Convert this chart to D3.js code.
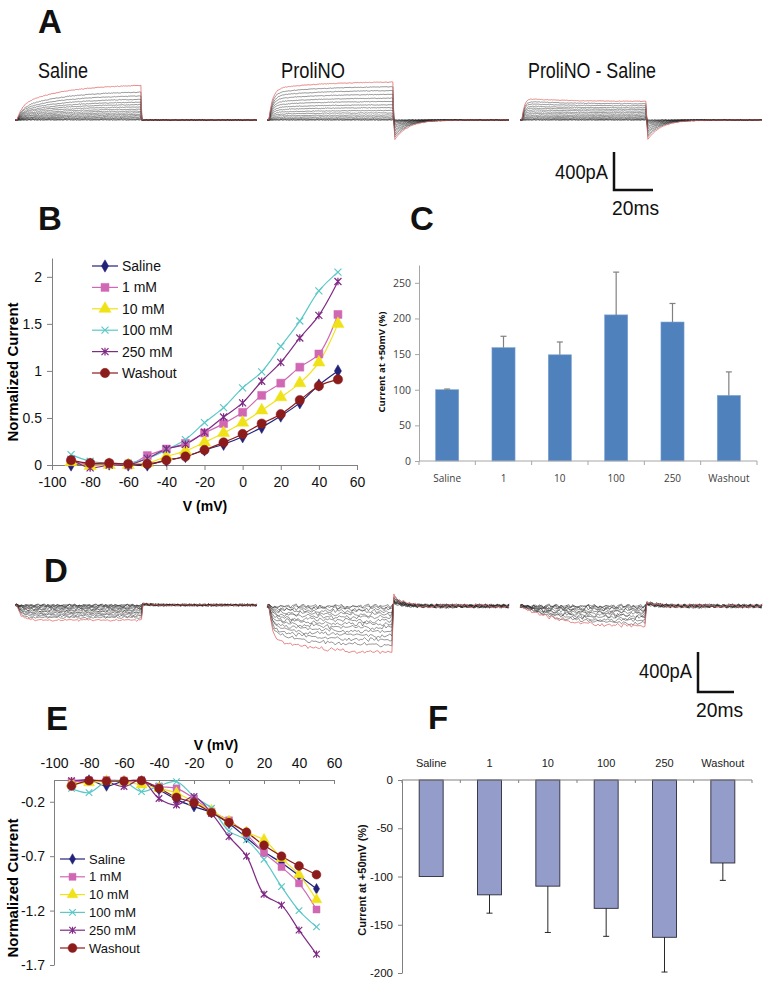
<!DOCTYPE html>
<html><head><meta charset="utf-8">
<script src="https://cdn.jsdelivr.net/npm/d3@7"></script>
<style>body{margin:0;background:#fff}svg{display:block}</style>
</head><body><svg id="c" width="768" height="986"></svg>
<script>
// ===================== DATA =====================
const voltages = [-90,-80,-70,-60,-50,-40,-30,-20,-10,0,10,20,30,40,50];
const seriesNames = ["Saline","1 mM","10 mM","100 mM","250 mM","Washout"];
const xTicksIV = [-100,-80,-60,-40,-20,0,20,40,60];

// Panel B: normalized outward current
const ivB_saline  = [0.00,0.01,0.01,0.00,0.00,0.05,0.09,0.16,0.22,0.30,0.40,0.52,0.66,0.85,1.00];
const ivB_1mM     = [0.04,0.01,0.01,0.00,0.10,0.17,0.23,0.34,0.44,0.56,0.74,0.87,1.04,1.18,1.60];
const ivB_10mM    = [0.03,-0.01,0.00,0.00,0.02,0.09,0.15,0.24,0.34,0.45,0.58,0.72,0.87,1.09,1.50];
const ivB_100mM   = [0.11,0.04,0.02,0.02,0.07,0.16,0.27,0.45,0.61,0.82,0.99,1.26,1.53,1.85,2.05];
const ivB_250mM   = [0.06,-0.03,0.00,0.00,0.07,0.17,0.22,0.35,0.51,0.66,0.89,1.09,1.35,1.59,1.95];
const ivB_washout = [0.05,0.02,0.02,0.01,0.01,0.05,0.09,0.16,0.24,0.33,0.44,0.54,0.69,0.84,0.91];
const yTicksB = [0,0.5,1,1.5,2];

// Panel E: normalized inward current
const ivE_saline  = [-0.03,0.00,-0.055,-0.01,-0.01,-0.09,-0.18,-0.245,-0.30,-0.40,-0.53,-0.66,-0.76,-0.88,-1.00];
const ivE_1mM     = [-0.015,-0.005,0.00,-0.005,-0.015,-0.06,-0.077,-0.17,-0.29,-0.37,-0.50,-0.67,-0.80,-0.95,-1.19];
const ivE_10mM    = [-0.03,-0.025,-0.01,-0.015,-0.045,-0.077,-0.12,-0.20,-0.28,-0.38,-0.48,-0.55,-0.72,-0.87,-1.10];
const ivE_100mM   = [-0.077,-0.116,-0.015,-0.015,-0.107,-0.055,-0.015,-0.153,-0.26,-0.47,-0.55,-0.73,-0.98,-1.20,-1.35];
const ivE_250mM   = [-0.006,0.00,-0.015,-0.06,0.00,-0.17,-0.23,-0.153,-0.306,-0.52,-0.70,-1.05,-1.15,-1.38,-1.60];
const ivE_washout = [-0.055,-0.006,-0.01,-0.01,-0.006,-0.077,-0.16,-0.21,-0.30,-0.39,-0.48,-0.60,-0.70,-0.79,-0.87];
const yTicksE = [-0.2,-0.7,-1.2,-1.7];

// Panels C and F: current at +50 mV (% of saline)
const barCats = ["Saline","1","10","100","250","Washout"];
const barC_mean = [100,159,149,205,195,92];
const barC_err  = [1,16,18,60,26,33];
const yTicksC = [0,50,100,150,200,250];
const barF_mean = [-100,-119,-110,-133,-163,-86];
const barF_err  = [0,19,48,29,36,18];
const yTicksF = [0,-50,-100,-150,-200];

// Panels A and D: sweep amplitudes at end of the step (pA); last entry = red sweep
const ampA_saline  = [0,5,12,21,32,44,58,74,92,112,135,160,185,215,250,290,360];
const ampA_prolino = [0,2,9,20,34,52,75,100,130,160,195,230,270,310,350,400];
const ampA_diff    = [0,2,8,17,28,40,55,72,90,110,130,150,175,200,230];
const ampD_saline  = [0,2,7,13,20,28,37,47,58,70,82,95,110,125,150];
const ampD_prolino = [0,10,30,55,85,115,150,185,220,260,300,345,395,470];
const ampD_diff    = [0,5,15,30,45,62,80,100,120,145,170,200];
const wiggle = [0.3,-0.8,0.5,1,-0.2,-1,0.6,-0.4,0.9,-0.7,0.1,0.8,-0.9,0.4,-0.3,0.7,-0.6,0.2,-1,0.5,0.9,-0.5,-0.1,0.6,-0.8,0.3,1,-0.4,-0.7,0.2,0.8,-0.9,0.1,-0.3,0.6,-0.6,0.4];

// ===================== STYLE =====================
const colors = ["#22227a","#d068b4","#f0e218","#5cc8c8","#7f2a84","#8c1c1c"];
const FONT = "'Liberation Sans', Arial, sans-serif";
const svg = d3.select("#c");
svg.append("rect").attr("width",768).attr("height",986).attr("fill","#fff");

function letter(t,x,y){ svg.append("text").attr("x",x).attr("y",y).text(t)
  .attr("font-family",FONT).attr("font-weight","bold").attr("font-size",33).attr("fill","#111"); }
letter("A",38,33); letter("B",38,230); letter("C",410,230);
letter("D",44,582); letter("E",46,730); letter("F",428,729);

function markerPath(i, s){
  switch(i){
    case 0: return d3.symbol(d3.symbolDiamond, s*s*0.9)();
    case 1: return d3.symbol(d3.symbolSquare, s*s)();
    case 2: return d3.symbol(d3.symbolTriangle, s*s*0.9)();
    case 3: { const h=s*0.5; return `M${-h},${-h}L${h},${h}M${-h},${h}L${h},${-h}`; }
    case 4: { const h=s*0.5; return `M${-h},${-h}L${h},${h}M${-h},${h}L${h},${-h}M0,${-h*1.1}L0,${h*1.1}`; }
    case 5: return d3.symbol(d3.symbolCircle, s*s*0.85)();
  }
}
function drawMarker(g, i, x, y, s){
  const stroke = (i===3||i===4);
  g.append("path").attr("d",markerPath(i,s)).attr("transform",`translate(${x},${y})`)
    .attr("fill", stroke ? "none" : colors[i]).attr("stroke", colors[i])
    .attr("stroke-width", stroke?1.2:0.5);
}
const sizesB = [7,8,8.5,7,7,9];
const sizesE = [6,7,7.5,6.5,6.5,8.5];

// ===================== PANEL B =====================
{
  const g = svg.append("g");
  const x = d3.scaleLinear().domain([-100,60]).range([52,357]);
  const y = d3.scaleLinear().domain([0,2.2]).range([465,258]);
  const ax = g.append("g").attr("transform","translate(0,465)")
    .call(d3.axisBottom(x).tickValues(xTicksIV).tickFormat(String).tickSize(5).tickSizeOuter(0).tickPadding(7));
  const ay = g.append("g").attr("transform","translate(52,0)")
    .call(d3.axisLeft(y).tickValues(yTicksB).tickFormat(String).tickSize(5).tickSizeOuter(0).tickPadding(5));
  [ax,ay].forEach(a=>{ a.selectAll("path,line").attr("stroke","#808080");
    a.selectAll("text").attr("font-family",FONT).attr("font-size",14).attr("fill","#111"); });
  g.append("text").attr("x",205).attr("y",511).attr("text-anchor","middle").text("V (mV)")
    .attr("font-family",FONT).attr("font-weight","bold").attr("font-size",14);
  g.append("text").attr("transform","translate(18,372) rotate(-90)").attr("text-anchor","middle")
    .text("Normalized Current").attr("font-family",FONT).attr("font-weight","bold").attr("font-size",15);
  const data = [ivB_saline,ivB_1mM,ivB_10mM,ivB_100mM,ivB_250mM,ivB_washout];
  const line = d3.line().x((d,i)=>x(voltages[i])).y(d=>y(d)).curve(d3.curveCatmullRom.alpha(0.5));
  data.forEach((s,k)=>{
    g.append("path").attr("d",line(s)).attr("fill","none").attr("stroke",colors[k]).attr("stroke-width",1.2);
  });
  data.forEach((s,k)=>{ s.forEach((v,i)=>drawMarker(g,k,x(voltages[i]),y(v),sizesB[k])); });
  seriesNames.forEach((n,k)=>{
    const yy = 266 + k*21.4;
    g.append("line").attr("x1",92).attr("x2",118).attr("y1",yy).attr("y2",yy).attr("stroke",colors[k]).attr("stroke-width",1.2);
    drawMarker(g,k,105,yy,sizesB[k]);
    g.append("text").attr("x",122).attr("y",yy+5).text(n).attr("font-family",FONT).attr("font-size",14).attr("fill","#111");
  });
}

// ===================== PANEL C =====================
{
  const g = svg.append("g");
  const CF = "'Open Sans', sans-serif";
  const x = d3.scaleBand().domain(barCats).range([419,757]).paddingInner(0.59).paddingOuter(0.295);
  const y = d3.scaleLinear().domain([0,275]).range([461,265]);
  g.selectAll("rect.bar").data(barC_mean).enter().append("rect")
    .attr("x",(d,i)=>x(barCats[i])).attr("width",x.bandwidth())
    .attr("y",d=>y(d)).attr("height",d=>y(0)-y(d)).attr("fill","#4f81bd")
    .attr("stroke","#7ea3d3").attr("stroke-width",0.6);
  barC_mean.forEach((m,i)=>{
    const cx = x(barCats[i]) + x.bandwidth()/2;
    g.append("line").attr("x1",cx).attr("x2",cx).attr("y1",y(m)).attr("y2",y(m+barC_err[i])).attr("stroke","#808080").attr("stroke-width",1.2);
    g.append("line").attr("x1",cx-3).attr("x2",cx+3).attr("y1",y(m+barC_err[i])).attr("y2",y(m+barC_err[i])).attr("stroke","#808080").attr("stroke-width",1.2);
  });
  const ay = g.append("g").attr("transform","translate(419,0)")
    .call(d3.axisLeft(y).tickValues(yTicksC).tickSize(4).tickSizeOuter(0).tickPadding(4));
  ay.selectAll("path,line").attr("stroke","#a6a6a6");
  ay.selectAll("text").attr("font-family",CF).attr("font-size",10.5).attr("fill","#404040");
  g.append("line").attr("x1",419).attr("x2",757).attr("y1",461).attr("y2",461).attr("stroke","#a6a6a6");
  d3.range(barCats.length+1).forEach(i=>{
    const bx = 419 + i*x.step();
    g.append("line").attr("x1",bx).attr("x2",bx).attr("y1",461).attr("y2",465).attr("stroke","#a6a6a6");
  });
  barCats.forEach(c=>{
    g.append("text").attr("x",x(c)+x.bandwidth()/2).attr("y",482).attr("text-anchor","middle").text(c)
      .attr("font-family",CF).attr("font-size",10).attr("fill","#404040");
  });
  g.append("text").attr("transform","translate(385,362) rotate(-90)").attr("text-anchor","middle")
    .text("Current at +50mV (%)").attr("font-family",CF).attr("font-weight","bold").attr("font-size",9.5).attr("fill","#111");
}

// ===================== PANEL E =====================
{
  const g = svg.append("g");
  const x = d3.scaleLinear().domain([-100,60]).range([54,334]);
  const y = d3.scaleLinear().domain([-1.7,0]).range([965,780]);
  const ax = g.append("g").attr("transform","translate(0,780)")
    .call(d3.axisTop(x).tickValues(xTicksIV).tickFormat(String).tickSize(-4).tickSizeOuter(0).tickPadding(12));
  const ay = g.append("g").attr("transform","translate(54,0)")
    .call(d3.axisLeft(y).tickValues(yTicksE).tickFormat(String).tickSize(4).tickSizeOuter(0).tickPadding(5));
  [ax,ay].forEach(a=>{ a.selectAll("path,line").attr("stroke","#808080");
    a.selectAll("text").attr("font-family",FONT).attr("font-size",14).attr("fill","#111"); });
  g.append("text").attr("x",216).attr("y",750).attr("text-anchor","middle").text("V (mV)")
    .attr("font-family",FONT).attr("font-weight","bold").attr("font-size",14);
  g.append("text").attr("transform","translate(18,888) rotate(-90)").attr("text-anchor","middle")
    .text("Normalized Current").attr("font-family",FONT).attr("font-weight","bold").attr("font-size",15);
  const data = [ivE_saline,ivE_1mM,ivE_10mM,ivE_100mM,ivE_250mM,ivE_washout];
  const line = d3.line().x((d,i)=>x(voltages[i])).y(d=>y(d)).curve(d3.curveCatmullRom.alpha(0.5));
  data.forEach((s,k)=>{
    g.append("path").attr("d",line(s)).attr("fill","none").attr("stroke",colors[k]).attr("stroke-width",1.2);
  });
  data.forEach((s,k)=>{ s.forEach((v,i)=>drawMarker(g,k,x(voltages[i]),y(v),sizesE[k])); });
  seriesNames.forEach((n,k)=>{
    const yy = 859 + k*17.8;
    g.append("line").attr("x1",60).attr("x2",85).attr("y1",yy).attr("y2",yy).attr("stroke",colors[k]).attr("stroke-width",1.2);
    drawMarker(g,k,72.5,yy,sizesE[k]);
    g.append("text").attr("x",89).attr("y",yy+4.5).text(n).attr("font-family",FONT).attr("font-size",13).attr("fill","#111");
  });
}

// ===================== PANEL F =====================
{
  const g = svg.append("g");
  const x = d3.scaleBand().domain(barCats).range([402,752]).paddingInner(0.589).paddingOuter(0.2945);
  const y = d3.scaleLinear().domain([-200,0]).range([973,780]);
  g.selectAll("rect.bar").data(barF_mean).enter().append("rect")
    .attr("x",(d,i)=>x(barCats[i])).attr("width",x.bandwidth())
    .attr("y",y(0)).attr("height",d=>y(d)-y(0)).attr("fill","#949cca")
    .attr("stroke","#2b2b3a").attr("stroke-width",0.9);
  barF_mean.forEach((m,i)=>{
    if(!barF_err[i]) return;
    const cx = x(barCats[i]) + x.bandwidth()/2;
    g.append("line").attr("x1",cx).attr("x2",cx).attr("y1",y(m)).attr("y2",y(m-barF_err[i])).attr("stroke","#111").attr("stroke-width",0.9);
    g.append("line").attr("x1",cx-3).attr("x2",cx+3).attr("y1",y(m-barF_err[i])).attr("y2",y(m-barF_err[i])).attr("stroke","#111").attr("stroke-width",0.9);
  });
  const ay = g.append("g").attr("transform","translate(402,0)")
    .call(d3.axisLeft(y).tickValues(yTicksF).tickFormat(String).tickSize(4).tickSizeOuter(0).tickPadding(5));
  ay.selectAll("path,line").attr("stroke","#808080");
  ay.selectAll("text").attr("font-family",FONT).attr("font-size",11.5).attr("fill","#111");
  g.append("line").attr("x1",402).attr("x2",752).attr("y1",780).attr("y2",780).attr("stroke","#808080");
  d3.range(barCats.length+1).forEach(i=>{
    const bx = 402 + i*x.step();
    g.append("line").attr("x1",bx).attr("x2",bx).attr("y1",780).attr("y2",783).attr("stroke","#808080");
  });
  barCats.forEach(c=>{
    g.append("text").attr("x",x(c)+x.bandwidth()/2).attr("y",767).attr("text-anchor","middle").text(c)
      .attr("font-family",FONT).attr("font-size",11).attr("fill","#222");
  });
  g.append("text").attr("transform","translate(366,880) rotate(-90)").attr("text-anchor","middle")
    .text("Current at +50mV (%)").attr("font-family",FONT).attr("font-weight","bold").attr("font-size",11).attr("fill","#111");
}

// ===================== TRACES (A, D) =====================
const tOn = 1, tOff = 65, tEnd = 124;
function traceSet(x0, yBase, amps, onShape, offShape, barPx, noise, dt){
  const tSamples = d3.range(0, tEnd+0.001, dt);
  const tx = d3.scaleLinear().domain([0,tEnd]).range([x0, x0+242]);
  const ay = d3.scaleLinear().domain([0,400]).range([0,barPx]);
  const g = svg.append("g");
  amps.forEach((a,k)=>{
    const red = k===amps.length-1;
    const pts = tSamples.map((t,i)=>{
      let v = 0;
      if(t>=tOn && t<tOff) v = onShape(t-tOn, a);
      else if(t>=tOff) v = offShape(t-tOff, a);
      const w = (wiggle[(i*5 + k*11) % wiggle.length]*0.6 + wiggle[(i*3 + k*7 + 4) % wiggle.length]*0.4)*noise;
      return [tx(t), yBase - ay(v) + w];
    });
    g.append("path").attr("d", d3.line()(pts)).attr("fill","none")
      .attr("stroke", red ? "#e06a6a" : "#2a2a2a").attr("stroke-width", red?0.8:0.55)
      .attr("stroke-opacity", red?1:0.9);
  });
}
// Panel A
const barA = 38;
traceSet(15,120,ampA_saline,
  (t,a)=>a*(0.4*(1-Math.exp(-t/2.5))+0.6*(1-Math.exp(-t/22)))/0.956,
  (t,a)=>0, barA, 0.45, 0.5);
traceSet(267,120,ampA_prolino,
  (t,a)=>a*(0.8*(1-Math.exp(-t/1.8))+0.2*(1-Math.exp(-t/25)))/0.985,
  (t,a)=>-a*0.55*Math.exp(-t/7)*Math.min(1,t/0.5), barA, 0.4, 0.5);
traceSet(520,120,ampA_diff,
  (t,a)=>a*(1-Math.exp(-t/1.2))*(0.85+0.15*Math.exp(-t/20)),
  (t,a)=>-a*0.95*Math.exp(-t/7)*Math.min(1,t/0.5), barA, 0.4, 0.5);
// Panel D
const barD = 40;
traceSet(15,605,ampD_saline,
  (t,a)=>-a*(1-Math.exp(-t/2)),
  (t,a)=>15*Math.exp(-t/3), barD, 1.3, 0.8);
traceSet(267,606,ampD_prolino,
  (t,a)=>-a*(0.65*(1-Math.exp(-t/1.5))+0.35*(1-Math.exp(-t/20))),
  (t,a)=>(30+a*0.15)*Math.exp(-t/5), barD, 2.4, 1);
traceSet(520,606,ampD_diff,
  (t,a)=>-a*(1-Math.exp(-t/18))/0.97,
  (t,a)=>(20+a*0.1)*Math.exp(-t/5), barD, 2.4, 1);

// Titles and scale bars (condensed type, as in the figure)
[["Saline",38,50],["ProliNO",281,64],["ProliNO - Saline",528,128]].forEach(([t,x,w])=>{
  svg.append("text").attr("x",x).attr("y",78).text(t).attr("font-family",FONT).attr("font-size",22)
    .attr("textLength",w).attr("lengthAdjust","spacingAndGlyphs").attr("fill","#111");
});
function scaleBar(x, yBot, vLen, hLen, txtY1, txtY2){
  svg.append("path").attr("d",`M${x},${yBot-vLen}V${yBot}H${x+hLen}`).attr("fill","none").attr("stroke","#111").attr("stroke-width",2.5);
  svg.append("text").attr("x",x-59).attr("y",txtY1).text("400pA").attr("font-family",FONT).attr("font-size",20)
    .attr("textLength",53).attr("lengthAdjust","spacingAndGlyphs").attr("fill","#111");
  svg.append("text").attr("x",x-2).attr("y",txtY2).text("20ms").attr("font-family",FONT).attr("font-size",20)
    .attr("textLength",47).attr("lengthAdjust","spacingAndGlyphs").attr("fill","#111");
}
scaleBar(614,190,barA,39,179,215);
scaleBar(698,692,barD,36,678,717);
</script></body></html>
